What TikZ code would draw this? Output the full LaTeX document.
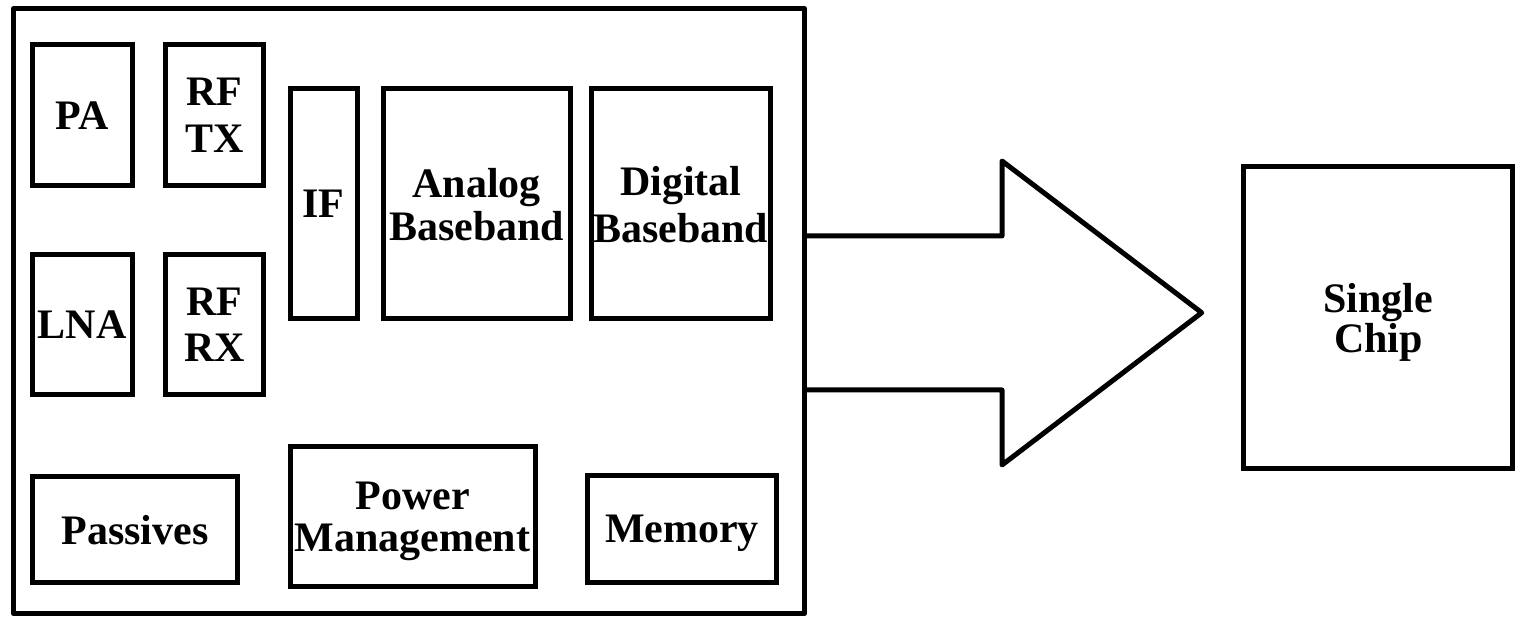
\documentclass[tikz,border=0pt]{standalone}
\usepackage{fontspec}
\setmainfont{Liberation Serif}
\begin{document}
\begin{tikzpicture}[x=1pt, y=-1pt,
  frame/.style={draw, line width=5pt, line join=round, inner sep=0pt},
  blk/.style={draw, line width=5pt, inner sep=0pt, align=center,
    text depth=0pt, font=\bfseries\fontsize{42}{#1}\selectfont},
  blk/.default=47,
  bigarrow/.style={draw, line width=5pt, line join=round}]
\useasboundingbox (0,0) rectangle (1516,617);

% board outline
\node[frame, minimum width=791pt, minimum height=605pt] (board) at (409,311) {};

% RF front end
\node[blk, minimum width=99.5pt, minimum height=140.5pt] (pa)   at (82.25,115.25) {PA};
\node[blk, minimum width=98pt,   minimum height=140.5pt] (rftx) at (214.5,115.25) {RF\\TX};
\node[blk, minimum width=99.5pt, minimum height=140.5pt] (lna)  at (82.25,324.75) {LNA};
\node[blk, minimum width=98pt,   minimum height=140.5pt] (rfrx) at (214.5,324.75) {RF\\RX};

% IF and baseband
\node[blk, minimum width=67pt,    minimum height=230pt] (if)      at (323.5,204) {IF};
\node[blk=43, minimum width=186.5pt, minimum height=230pt] (analog)  at (476.75,204) {Analog\\Baseband};
\node[blk, minimum width=179.5pt, minimum height=230pt] (digital) at (680.75,204) {Digital\\Baseband};

% bottom row
\node[blk, minimum width=205pt, minimum height=106pt] (passives) at (135,529.5) {Passives};
\node[blk=42, minimum width=245pt, minimum height=140pt] (power)  at (412.5,516.5) {Power\\Management};
\node[blk, minimum width=189pt, minimum height=107pt] (memory)   at (682,529) {Memory};

% integrated result
\node[blk=40, minimum width=269pt, minimum height=302pt] (chip) at (1378.4,317.7) {Single\\Chip};

% block arrow leaving the board
\draw[bigarrow] (board.east |- 0,236) -- (1002,236) -- (1002,161) -- (1201.7,312.7)
  -- (1002,465) -- (1002,390) -- (board.east |- 0,390);
\end{tikzpicture}
\end{document}
